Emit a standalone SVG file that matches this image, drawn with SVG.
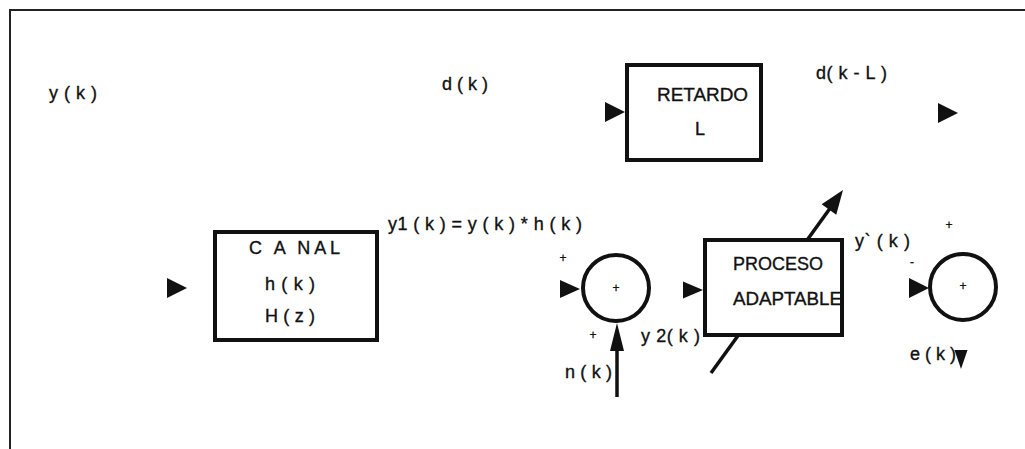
<svg xmlns="http://www.w3.org/2000/svg" xmlns:xlink="http://www.w3.org/1999/xlink" width="1025" height="449" viewBox="0 0 1025 449">
<style>
  .box { fill: #fff; stroke: #111; stroke-width: 4; }
  .sum { fill: none; stroke: #111; stroke-width: 4; }
  .wire { fill: none; stroke: #111; stroke-width: 3.5; }
  .frame { fill: none; stroke: #222; stroke-width: 2; }
  .t { font-family: "Liberation Sans", Arial, sans-serif; font-size: 18px; fill: #111; stroke: #111; stroke-width: 0.35; }
  .s { font-family: "Liberation Sans", Arial, sans-serif; font-size: 12px; fill: #111; stroke: #111; stroke-width: 0.3; }
  .ah { fill: #111; }
</style>
<defs>
  <path id="ah" d="M0,0 L-20,-10 L-20,10 Z"/>
</defs>
<g id="frame">
  <polyline class="frame" points="10,449 10,10 1025,10"/>
</g>
<g id="connectors">
  <line class="wire" x1="711" y1="373" x2="831" y2="207"/>
  <line class="wire" x1="617" y1="397" x2="617" y2="350"/>
  <use xlink:href="#ah" class="ah" transform="translate(187,288)"/>
  <use xlink:href="#ah" class="ah" transform="translate(625,112)"/>
  <use xlink:href="#ah" class="ah" transform="translate(958,113)"/>
  <use xlink:href="#ah" class="ah" transform="translate(580,289) scale(1,0.9)"/>
  <use xlink:href="#ah" class="ah" transform="translate(703,290) scale(1,0.85)"/>
  <use xlink:href="#ah" class="ah" transform="translate(929,288)"/>
  <use xlink:href="#ah" class="ah" transform="translate(617,323) rotate(-90) scale(1.4,0.7)"/>
  <use xlink:href="#ah" class="ah" transform="translate(961,369) rotate(90) scale(0.95,0.65)"/>
  <use xlink:href="#ah" class="ah" transform="translate(843,190) rotate(-54.2) scale(1.2,0.9)"/>
</g>
<g id="n-canal">
  <rect class="box" x="215" y="232" width="162" height="108"/>
  <text class="t" x="249" y="254" textLength="91" lengthAdjust="spacing">C A NAL</text>
  <text class="t" x="265" y="290" textLength="50" lengthAdjust="spacing">h ( k )</text>
  <text class="t" x="265" y="322" textLength="50" lengthAdjust="spacing">H ( z )</text>
</g>
<g id="n-retardo">
  <rect class="box" x="627" y="65" width="134" height="95"/>
  <text class="t" x="657" y="101" textLength="91" lengthAdjust="spacingAndGlyphs">RETARDO</text>
  <text class="t" x="695" y="135">L</text>
</g>
<g id="n-sum1">
  <circle class="sum" cx="616" cy="288" r="33"/>
  <text class="s" x="616" y="292" text-anchor="middle">+</text>
</g>
<g id="n-proceso">
  <rect class="box" x="705" y="240" width="137" height="95"/>
  <text class="t" x="733" y="270" textLength="90" lengthAdjust="spacingAndGlyphs">PROCESO</text>
  <text class="t" x="733" y="305" textLength="109" lengthAdjust="spacingAndGlyphs">ADAPTABLE</text>
</g>
<g id="n-sum2">
  <circle class="sum" cx="963" cy="287" r="33"/>
  <text class="s" x="963" y="290" text-anchor="middle">+</text>
</g>
<g id="labels">
  <text class="t" x="49" y="99" textLength="48" lengthAdjust="spacing">y ( k )</text>
  <text class="t" x="442" y="90" textLength="46" lengthAdjust="spacing">d ( k )</text>
  <text class="t" x="816" y="79" textLength="71" lengthAdjust="spacing">d( k - L )</text>
  <text class="t" x="388" y="230" textLength="194" lengthAdjust="spacing">y1 ( k ) = y ( k ) * h ( k )</text>
  <text class="s" x="563" y="262" text-anchor="middle">+</text>
  <text class="s" x="593" y="339" text-anchor="middle">+</text>
  <text class="t" x="565" y="378" textLength="47" lengthAdjust="spacing">n ( k )</text>
  <text class="t" x="641" y="342" textLength="59" lengthAdjust="spacing">y 2( k )</text>
  <text class="t" x="855" y="247" textLength="55" lengthAdjust="spacing">y` ( k )</text>
  <text class="s" x="949" y="229" text-anchor="middle">+</text>
  <text class="s" x="912" y="266" text-anchor="middle">-</text>
  <text class="t" x="910" y="360" textLength="46" lengthAdjust="spacing">e ( k )</text>
</g>
</svg>
